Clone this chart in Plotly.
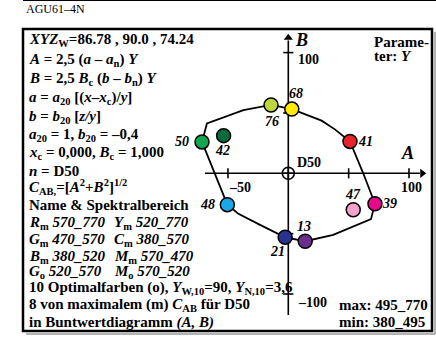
import plotly.graph_objects as go

# colour points in the (A, B) chromaticity diagram
point_labels = ["50", "42", "76", "68", "41", "39", "47", "13", "21", "48"]
point_a = [-71.5, -53.6, -14.3, 2.9, 51.1, 71.8, 53.8, 14.0, -2.6, -50.5]
point_b = [26.0, 31.2, 56.6, 53.2, 26.4, -25.2, -30.2, -56.3, -53.0, -26.0]
point_colors = ["#12a64e", "#0b6b3d", "#bed63c", "#ffec00", "#e8222a",
                "#e6098b", "#f2a2c8", "#6c2e8e", "#29338f", "#1aa9e6"]

# boundary line of the optimal colours
boundary_a = [-71.5, -67.4, -37.2, -14.3, 2.9, 27.6, 38.6, 51.1, 62.1, 71.8, 68.5,
              37.2, 14.0, -2.6, -23.4, -41.3, -50.5, -71.5]
boundary_b = [26.0, 41.3, 52.3, 56.6, 53.2, 43.6, 36.4, 26.4, 0.0, -25.2, -38.0,
              -51.0, -56.3, -53.0, -42.7, -33.6, -26.0, 26.0]

tick_a = [-50, 50, 100]
tick_b = [100, 50, -50, -100]

left_lines = [
    "<i>XYZ</i><sub>W</sub>=86.78 , 90.0 , 74.24",
    "<i>A</i> = 2,5 (<i>a</i> – <i>a</i><sub>n</sub>) <i>Y</i>",
    "<i>B</i> = 2,5 <i>B</i><sub>c</sub> (<i>b</i> – <i>b</i><sub>n</sub>) <i>Y</i>",
    "<i>a</i> = <i>a</i><sub>20</sub> [(<i>x</i>–<i>x</i><sub>c</sub>)/<i>y</i>]",
    "<i>b</i> = <i>b</i><sub>20</sub> [<i>z/y</i>]",
    "<i>a</i><sub>20</sub> = 1, <i>b</i><sub>20</sub> = –0,4",
    "<i>x</i><sub>c</sub> = 0,000, <i>B</i><sub>c</sub> = 1,000",
    "<i>n</i> = D50",
    "<i>C</i><sub>AB,</sub>=[<i>A</i><sup>2</sup>+<i>B</i><sup>2</sup>]<sup>1/2</sup>",
    "Name & Spektralbereich",
    "<i>R</i><sub>m</sub> <i>570_770</i>",
    "<i>G</i><sub>m</sub> <i>470_570</i>",
    "<i>B</i><sub>m</sub> <i>380_520</i>",
    "<i>G</i><sub>o</sub> <i>520_570</i>",
    "10 Optimalfarben (o), <i>Y</i><sub>W,10</sub>=90, <i>Y</i><sub>N,10</sub>=3,6",
    "8 von maximalem (m) <i>C</i><sub>AB</sub> für D50",
    "in Buntwertdiagramm <i>(A, B)</i>",
]
second_column = {
    10: "<i>Y</i><sub>m</sub> <i>520_770</i>",
    11: "<i>C</i><sub>m</sub> <i>380_570</i>",
    12: "<i>M</i><sub>m</sub> <i>570_470</i>",
    13: "<i>M</i><sub>o</sub> <i>570_520</i>",
}

W, H = 436, 339
SERIF = "Liberation Serif, Times New Roman, serif"
PX_PER_UNIT = 1.207
ORIGIN_PX = (288.3, 173.3)

# label offsets in pixels (dx right, dy up)
label_shift = [(-20, 0), (-1, -15), (1, -17), (4, 16), (16, 0),
               (15, 0), (0, 15), (-1, 15), (-8, -14), (-20, 0)]


def px_to_paper(x, y):
    return x / W, 1 - y / H


x_range = [-ORIGIN_PX[0] / PX_PER_UNIT, (W - ORIGIN_PX[0]) / PX_PER_UNIT]
y_range = [(ORIGIN_PX[1] - H) / PX_PER_UNIT, ORIGIN_PX[1] / PX_PER_UNIT]

fig = go.Figure()

# axis cross
fig.add_trace(go.Scatter(x=[-69, 109], y=[0, 0], mode="lines",
                         line={"color": "black", "width": 1.6}, hoverinfo="skip"))
fig.add_trace(go.Scatter(x=[0, 0], y=[-117.5, 110], mode="lines",
                         line={"color": "black", "width": 1.6}, hoverinfo="skip"))
tx, ty = [], []
for a in tick_a:
    tx += [a, a, None]
    ty += [-4.2, 4.2, None]
for b in tick_b:
    tx += [-4.2, 4.2, None]
    ty += [b, b, None]
fig.add_trace(go.Scatter(x=tx, y=ty, mode="lines", line={"color": "black", "width": 1.6},
                         hoverinfo="skip"))
fig.add_trace(go.Scatter(x=[111.0], y=[0], mode="markers",
                         marker={"symbol": "triangle-right", "size": 8, "color": "black"}))
fig.add_trace(go.Scatter(x=[0], y=[112.4], mode="markers",
                         marker={"symbol": "triangle-up", "size": 8, "color": "black"}))
fig.add_trace(go.Scatter(x=[0], y=[0], mode="markers",
                         marker={"symbol": "circle-cross-open", "size": 12, "color": "black",
                                 "line": {"width": 1.6, "color": "black"}}))

# boundary and points
fig.add_trace(go.Scatter(x=boundary_a, y=boundary_b, mode="lines",
                         line={"color": "black", "width": 1.8}, hoverinfo="skip"))
fig.add_trace(go.Scatter(x=point_a, y=point_b, mode="markers",
                         marker={"size": 14, "color": point_colors,
                                 "line": {"color": "black", "width": 1.5}}))

annotations = []
for lab, a, b, (dx, dy) in zip(point_labels, point_a, point_b, label_shift):
    annotations.append(dict(x=a, y=b, xref="x", yref="y", text=f"<b><i>{lab}</i></b>",
                            showarrow=False, xshift=dx, yshift=dy,
                            font={"family": SERIF, "size": 14, "color": "black"}))

# axis texts
axis_texts = [
    (301, 40, "<b><i>B</i></b>", 18, "center"),
    (296, 59, "<b>100</b>", 14, "left"),
    (407, 153, "<b><i>A</i></b>", 18, "center"),
    (411, 187, "<b>100</b>", 14, "center"),
    (240, 187, "<b>–50</b>", 14, "center"),
    (296, 302, "<b>–100</b>", 14, "left"),
    (295, 162, "<b>D50</b>", 14, "left"),
]
for x, y, t, s, anc in axis_texts:
    px, py = px_to_paper(x, y)
    annotations.append(dict(x=px, y=py, xref="paper", yref="paper", text=t, showarrow=False,
                            xanchor=anc, yanchor="middle",
                            font={"family": SERIF, "size": s, "color": "black"}))

line_y = [40, 60, 79, 98, 117, 135, 153, 171, 187, 205, 223, 240, 257, 272, 288, 305, 322]
for i, t in enumerate(left_lines):
    px, py = px_to_paper(27, line_y[i])
    annotations.append(dict(x=px, y=py, xref="paper", yref="paper", text=f"<b>{t}</b>",
                            showarrow=False, xanchor="left", yanchor="middle",
                            font={"family": SERIF, "size": 15, "color": "black"}))
for i, t in second_column.items():
    px, py = px_to_paper(112, line_y[i])
    annotations.append(dict(x=px, y=py, xref="paper", yref="paper", text=f"<b>{t}</b>",
                            showarrow=False, xanchor="left", yanchor="middle",
                            font={"family": SERIF, "size": 15, "color": "black"}))

right_texts = [
    (372, 42, "<b>Parame-</b>"),
    (372, 56, "<b>ter: <i>Y</i></b>"),
    (337, 305, "<b>max: 495_770</b>"),
    (337, 322, "<b>min: 380_495</b>"),
]
for x, y, t in right_texts:
    px, py = px_to_paper(x, y)
    annotations.append(dict(x=px, y=py, xref="paper", yref="paper", text=t, showarrow=False,
                            xanchor="left", yanchor="middle",
                            font={"family": SERIF, "size": 15, "color": "black"}))

for y, t in [(9, "AGU61–4N"), (343, "AGU61–6N")]:
    px, py = px_to_paper(24, y)
    annotations.append(dict(x=px, y=py, xref="paper", yref="paper", text=t, showarrow=False,
                            xanchor="left", yanchor="middle",
                            font={"family": SERIF, "size": 12, "color": "black"}))

shapes = [
    dict(type="line", xref="paper", yref="paper", x0=23 / W, x1=1, y0=1 - 0.5 / H, y1=1 - 0.5 / H,
         line={"color": "black", "width": 1}),
    dict(type="line", xref="paper", yref="paper", x0=26 / W, x1=435 / W, y0=1 - 334 / H,
         y1=1 - 334 / H, line={"color": "#999999", "width": 1.5}),
    dict(type="line", xref="paper", yref="paper", x0=435 / W, x1=435 / W, y0=1 - 32 / H,
         y1=1 - 334 / H, line={"color": "#999999", "width": 1.5}),
    dict(type="rect", xref="paper", yref="paper", x0=23 / W, x1=432 / W, y0=1 - 29 / H,
         y1=1 - 331 / H, line={"color": "black", "width": 2.5}),
]

fig.update_layout(
    width=W, height=H, autosize=False, showlegend=False,
    margin={"l": 0, "r": 0, "t": 0, "b": 0, "pad": 0},
    paper_bgcolor="white", plot_bgcolor="rgba(0,0,0,0)",
    xaxis={"range": x_range, "visible": False, "fixedrange": True},
    yaxis={"range": y_range, "visible": False, "fixedrange": True},
    annotations=annotations, shapes=shapes,
)

fig.write_html("out.html", config={"displayModeBar": False},
               post_script="document.body.style.margin='0';document.body.style.overflow='hidden';")
